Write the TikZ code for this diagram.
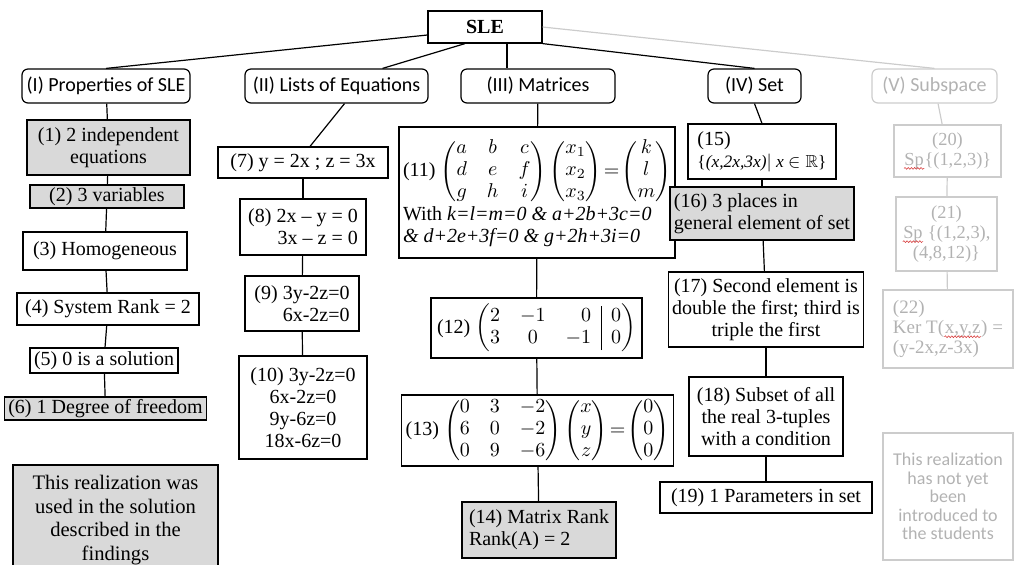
\documentclass[tikz,border=0pt]{standalone}
\usepackage{fontspec}
\usepackage{amsmath,amssymb}
\usetikzlibrary{decorations.pathmorphing}
\setmainfont{Liberation Serif}
\newfontfamily\headfont{Carlito}
\definecolor{shade}{gray}{0.85}
\definecolor{fadeline}{gray}{0.80}
\definecolor{fadetext}{gray}{0.70}
\definecolor{squiggle}{rgb}{0.85,0.25,0.25}
\newcommand{\spellwave}[1]{\tikz[baseline=(w.base),x=1pt,y=1pt]{%
  \node[draw=none,fill=none,inner sep=0pt,minimum width=0pt,minimum height=0pt,text=fadetext] (w) {#1};
  \draw[squiggle,line width=0.3pt,decorate,decoration={snake,amplitude=0.45pt,segment length=1.6pt}]
    ([yshift=-1.6pt]w.base west) -- ([yshift=-1.6pt]w.base east);}}

\begin{document}
\begin{tikzpicture}[x=0.5pt,y=-0.5pt,
    px/.style 2 args={minimum width=#1*0.5pt,minimum height=#2*0.5pt},
    box/.style={draw,line width=0.6pt,inner xsep=2pt,inner ysep=1pt,align=center,
      font=\fontsize{10}{11}\selectfont},
    head/.style={draw,line width=0.6pt,rounded corners=3pt,inner sep=1pt,
      font=\headfont\fontsize{10}{12}\selectfont},
    shaded/.style={box,fill=shade},
    faded/.style={box,draw=fadeline,text=fadetext,font=\fontsize{9.2}{10}\selectfont},
    link/.style={line width=0.6pt},
    fadelink/.style={line width=0.6pt,draw=fadeline}]
  \useasboundingbox (0,0) rectangle (1022,564);

  \node[box,font=\bfseries\fontsize{10}{12}\selectfont,px={114}{32}] (sle) at (485,27) {SLE};

  \node[head,px={168}{34}] (p1) at (106,86) {(I) Properties of SLE};
  \node[head,px={183}{34}] (p2) at (336.5,86) {(II) Lists of Equations};
  \node[head,px={154}{34}] (p3) at (538,86) {(III) Matrices};
  \node[head,px={93}{34}] (p4) at (754.5,86) {(IV) Set};
  \node[head,draw=fadeline,text=fadetext,px={125}{34}] (p5) at (934.5,86) {(V) Subspace};

  \node[shaded,px={163}{55}] (n1) at (108.5,147.5) {(1) 2 independent\\equations};
  \node[shaded,px={154}{23}] (n2) at (107,196.5) {(2) 3 variables};
  \node[box,px={164}{38}] (n3) at (105,251) {(3) Homogeneous};
  \node[box,px={182}{32}] (n4) at (108,309) {(4) System Rank = 2};
  \node[box,px={144}{25}] (n5) at (104,360.5) {(5) 0 is a solution};
  \node[shaded,px={197}{23}] (n6) at (105.5,408.5) {(6) 1 Degree of freedom};
  \node[shaded,font=\fontsize{10.3}{11.8}\selectfont,px={205}{110}] (usednote) at (115.5,520)
    {This realization was\\used in the solution\\described in the\\findings};

  \node[box,px={170}{31}] (n7) at (303,162.5) {(7) y = 2x ; z = 3x};
  \node[box,align=right,px={126}{56}] (n8) at (303,227) {(8) 2x – y = 0\\3x – z = 0};
  \node[box,align=right,px={114}{55}] (n9) at (302,303.5) {(9) 3y-2z=0\\6x-2z=0};
  \node[box,px={128}{103}] (n10) at (303,407.5) {(10) 3y-2z=0\\6x-2z=0\\9y-6z=0\\18x-6z=0};

  \node[box,align=left,px={266}{131}] (n11) at (537,192.5)
    {(11) $\begin{pmatrix} a&b&c\\ d&e&f\\ g&h&i\end{pmatrix}
      \begin{pmatrix}x_1\\x_2\\x_3\end{pmatrix}\!=\!\begin{pmatrix}k\\l\\m\end{pmatrix}$\\
     With \textit{k=l=m=0 \& a+2b+3c=0}\\
     \textit{\& d+2e+3f=0 \& g+2h+3i=0}};
  \node[box,px={211}{60}] (n12) at (536.5,328)
    {(12) $\left(\begin{array}{@{}ccr|c@{}}2&-1&0&0\\3&0&-1&0\end{array}\right)$};
  \node[box,px={253}{71}] (n13) at (537.5,430.5)
    {(13) $\begin{pmatrix}0&3&-2\\6&0&-2\\0&9&-6\end{pmatrix}
      \begin{pmatrix}x\\y\\z\end{pmatrix}\!=\!\begin{pmatrix}0\\0\\0\end{pmatrix}$};
  \node[shaded,align=left,px={154}{56}] (n14) at (539,530) {(14) Matrix Rank\\Rank(A) = 2};

  \node[box,align=left,px={148}{55}] (n15) at (762,151.5)
    {(15)\\{\fontsize{8.7}{10}\selectfont\{\textit{(x,2x,3x)}$|$ \textit{x} $\in\mathbb{R}$\}}};
  \node[shaded,align=left,px={170}{53}] (n16) at (762,213.5) {(16) 3 places in\\general element of set};
  \node[box,px={186}{75}] (n17) at (766,309.5) {(17) Second element is\\double the first; third is\\triple the first};
  \node[box,px={154}{79}] (n18) at (766,416.5) {(18) Subset of all\\the real 3-tuples\\with a condition};
  \node[box,px={212}{31}] (n19) at (766,497.5) {(19) 1 Parameters in set};

  \node[faded,px={107}{52}] (n20) at (947.5,151) {(20)\\\spellwave{Sp}\{(1,2,3)\}};
  \node[faded,px={101}{74}] (n21) at (946.5,234) {(21)\\\spellwave{Sp} \{(1,2,3),\\(4,8,12)\}};
  \node[faded,align=left,font=\fontsize{9.5}{10.2}\selectfont,px={130}{78}] (n22) at (948,329)
    {(22)\\Ker T(\spellwave{x,y,z}) =\\(y-2x,z-3x)};
  \node[faded,font=\headfont\fontsize{9}{9.3}\selectfont,px={130}{127}] (pendnote) at (948,496.5)
    {This realization\\has not yet\\been\\introduced to\\the students};

  \draw[link] ([yshift=-4pt]sle.west) -- (p1.north);
  \draw[link] ([xshift=-10pt]sle.south) -- ([xshift=23pt]p2.north);
  \draw[link] ([xshift=11pt]sle.south) -- ([xshift=-15.5pt]p3.north);
  \draw[link] (sle.south east) -- (p4.north);
  \draw[fadelink] (sle.east) -- (p5.north);

  \draw[link] ([xshift=4pt]p2.south) -- ([xshift=3.5pt]n7.north);
  \draw[link] (p4.south) -- (n15.north);
  \foreach \a/\b in {p1/n1,n1/n2,n2/n3,n3/n4,n4/n5,n5/n6,n7/n8,n8/n9,n9/n10,
      p3/n11,n11/n12,n12/n13,n13/n14,n15/n16,n16/n17,n17/n18,n18/n19}
    \draw[link] (\a) -- (\b);
  \foreach \a/\b in {p5/n20,n20/n21,n21/n22}
    \draw[fadelink] (\a) -- (\b);
\end{tikzpicture}
\end{document}
